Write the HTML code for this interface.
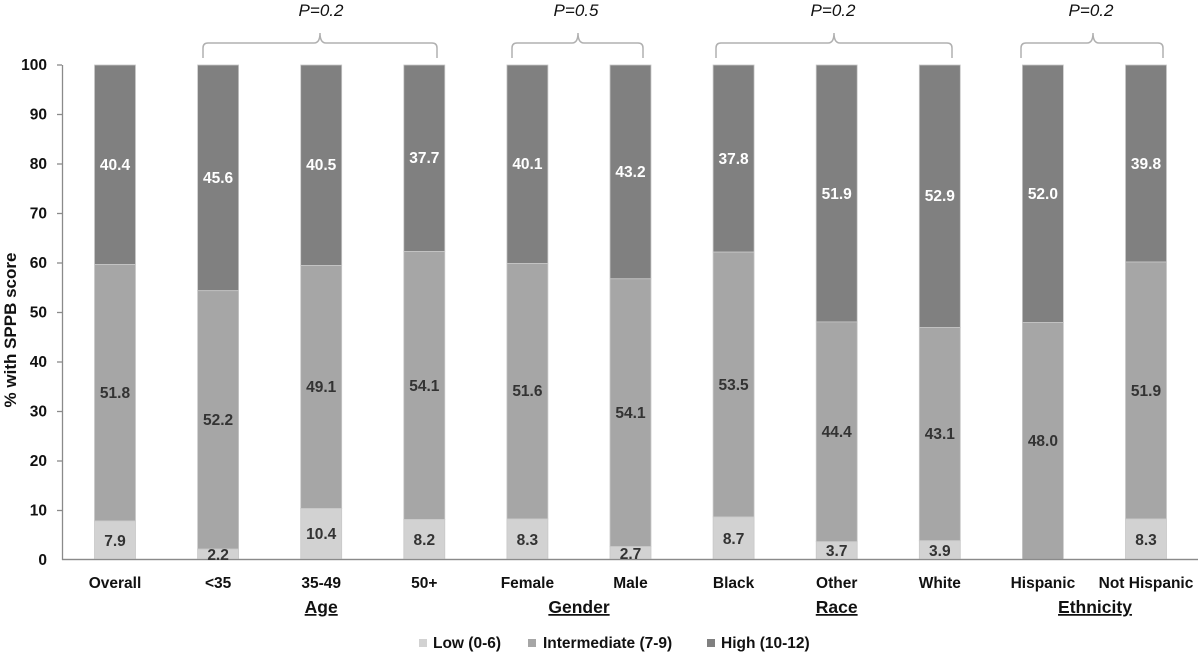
<!DOCTYPE html>
<html><head><meta charset="utf-8"><style>
html,body{margin:0;padding:0;background:#fff;}
svg{display:block;}
text{font-family:"Liberation Sans",Arial,sans-serif;}
.tk{font-size:15.5px;font-weight:bold;fill:#111;text-anchor:end;}
.cat{font-size:15.5px;font-weight:bold;fill:#111;text-anchor:middle;}
.grp{font-size:17.5px;font-weight:bold;fill:#111;text-anchor:middle;text-decoration:underline;}
.dl{font-size:15.5px;font-weight:bold;fill:#333;text-anchor:middle;}
.dh{font-size:15.5px;font-weight:bold;fill:#fff;text-anchor:middle;}
.p{font-size:17px;font-style:italic;fill:#111;text-anchor:middle;}
.lg{font-size:15.5px;font-weight:bold;fill:#111;}
.br{fill:none;stroke:#b0b0b0;stroke-width:1.5;}
</style></head><body>
<svg width="1200" height="654" viewBox="0 0 1200 654" xmlns="http://www.w3.org/2000/svg">
<!-- brackets -->
<path class="br" d="M203,58 L203,48 Q203,43 208,43 L314,43 Q320,43 320,33 Q320,43 326,43 L432,43 Q437,43 437,48 L437,58"/>
<path class="br" d="M512,58 L512,48 Q512,43 517,43 L572,43 Q578,43 578,33 Q578,43 584,43 L638,43 Q643,43 643,48 L643,58"/>
<path class="br" d="M716,58 L716,48 Q716,43 721,43 L828,43 Q834,43 834,33 Q834,43 840,43 L947,43 Q952,43 952,48 L952,58"/>
<path class="br" d="M1021,58 L1021,48 Q1021,43 1026,43 L1087,43 Q1093,43 1093,33 Q1093,43 1099,43 L1158,43 Q1163,43 1163,48 L1163,58"/>
<text class="p" x="321" y="16">P=0.2</text>
<text class="p" x="576" y="16">P=0.5</text>
<text class="p" x="833" y="16">P=0.2</text>
<text class="p" x="1091" y="16">P=0.2</text>

<!-- axes -->
<g stroke="#8a8a8a" stroke-width="1.3">
<line x1="62.5" y1="65" x2="62.5" y2="560"/>
<line x1="62" y1="559.5" x2="1198" y2="559.5"/>
<line x1="57" y1="65" x2="62" y2="65"/>
<line x1="57" y1="114.5" x2="62" y2="114.5"/>
<line x1="57" y1="164" x2="62" y2="164"/>
<line x1="57" y1="213.5" x2="62" y2="213.5"/>
<line x1="57" y1="263" x2="62" y2="263"/>
<line x1="57" y1="312.5" x2="62" y2="312.5"/>
<line x1="57" y1="362" x2="62" y2="362"/>
<line x1="57" y1="411.5" x2="62" y2="411.5"/>
<line x1="57" y1="461" x2="62" y2="461"/>
<line x1="57" y1="510.5" x2="62" y2="510.5"/>
</g>
<g>
<text class="tk" x="47" y="70">100</text>
<text class="tk" x="47" y="119.5">90</text>
<text class="tk" x="47" y="169">80</text>
<text class="tk" x="47" y="218.5">70</text>
<text class="tk" x="47" y="268">60</text>
<text class="tk" x="47" y="317.5">50</text>
<text class="tk" x="47" y="367">40</text>
<text class="tk" x="47" y="416.5">30</text>
<text class="tk" x="47" y="466">20</text>
<text class="tk" x="47" y="515.5">10</text>
<text class="tk" x="47" y="565">0</text>
</g>
<text transform="translate(16,330) rotate(-90)" style="font-size:17px;font-weight:bold;fill:#111;text-anchor:middle;">% with SPPB score</text>

<!-- bars -->
<g stroke="#c8c8c8" stroke-width="0.8">
<rect x="94.5" y="65" width="41" height="199.5" fill="#808080"/>
<rect x="94.5" y="264.5" width="41" height="256.4" fill="#a6a6a6"/>
<rect x="94.5" y="520.9" width="41" height="38.6" fill="#d2d2d2"/>
<rect x="197.6" y="65" width="41" height="225.7" fill="#808080"/>
<rect x="197.6" y="290.7" width="41" height="258.4" fill="#a6a6a6"/>
<rect x="197.6" y="549.1" width="41" height="10.4" fill="#d2d2d2"/>
<rect x="300.7" y="65" width="41" height="200.5" fill="#808080"/>
<rect x="300.7" y="265.5" width="41" height="243" fill="#a6a6a6"/>
<rect x="300.7" y="508.5" width="41" height="51" fill="#d2d2d2"/>
<rect x="403.8" y="65" width="41" height="186.6" fill="#808080"/>
<rect x="403.8" y="251.6" width="41" height="267.8" fill="#a6a6a6"/>
<rect x="403.8" y="519.4" width="41" height="40.1" fill="#d2d2d2"/>
<rect x="506.9" y="65" width="41" height="198.5" fill="#808080"/>
<rect x="506.9" y="263.5" width="41" height="255.4" fill="#a6a6a6"/>
<rect x="506.9" y="518.9" width="41" height="40.6" fill="#d2d2d2"/>
<rect x="610" y="65" width="41" height="213.8" fill="#808080"/>
<rect x="610" y="278.8" width="41" height="267.8" fill="#a6a6a6"/>
<rect x="610" y="546.6" width="41" height="12.9" fill="#d2d2d2"/>
<rect x="713.1" y="65" width="41" height="187.1" fill="#808080"/>
<rect x="713.1" y="252.1" width="41" height="264.8" fill="#a6a6a6"/>
<rect x="713.1" y="516.9" width="41" height="42.6" fill="#d2d2d2"/>
<rect x="816.2" y="65" width="41" height="256.9" fill="#808080"/>
<rect x="816.2" y="321.9" width="41" height="219.8" fill="#a6a6a6"/>
<rect x="816.2" y="541.7" width="41" height="17.8" fill="#d2d2d2"/>
<rect x="919.3" y="65" width="41" height="262.4" fill="#808080"/>
<rect x="919.3" y="327.4" width="41" height="213.3" fill="#a6a6a6"/>
<rect x="919.3" y="540.7" width="41" height="18.8" fill="#d2d2d2"/>
<rect x="1022.4" y="65" width="41" height="257.4" fill="#808080"/>
<rect x="1022.4" y="322.4" width="41" height="237.1" fill="#a6a6a6"/>
<rect x="1125.5" y="65" width="41" height="197" fill="#808080"/>
<rect x="1125.5" y="262" width="41" height="256.9" fill="#a6a6a6"/>
<rect x="1125.5" y="518.9" width="41" height="40.6" fill="#d2d2d2"/>
</g>
<line x1="62" y1="559.5" x2="1198" y2="559.5" stroke="#8a8a8a" stroke-width="1.3"/>

<!-- data labels -->
<g>
<text class="dh" x="115" y="170">40.4</text>
<text class="dl" x="115" y="398">51.8</text>
<text class="dl" x="115" y="546">7.9</text>

<text class="dh" x="218.1" y="183">45.6</text>
<text class="dl" x="218.1" y="425">52.2</text>
<text class="dl" x="218.1" y="560">2.2</text>

<text class="dh" x="321.2" y="170">40.5</text>
<text class="dl" x="321.2" y="392">49.1</text>
<text class="dl" x="321.2" y="539">10.4</text>

<text class="dh" x="424.3" y="163">37.7</text>
<text class="dl" x="424.3" y="391">54.1</text>
<text class="dl" x="424.3" y="545">8.2</text>

<text class="dh" x="527.4" y="169">40.1</text>
<text class="dl" x="527.4" y="396">51.6</text>
<text class="dl" x="527.4" y="545">8.3</text>

<text class="dh" x="630.5" y="177">43.2</text>
<text class="dl" x="630.5" y="418">54.1</text>
<text class="dl" x="630.5" y="559">2.7</text>

<text class="dh" x="733.6" y="164">37.8</text>
<text class="dl" x="733.6" y="390">53.5</text>
<text class="dl" x="733.6" y="544">8.7</text>

<text class="dh" x="836.7" y="199">51.9</text>
<text class="dl" x="836.7" y="437">44.4</text>
<text class="dl" x="836.7" y="556">3.7</text>

<text class="dh" x="939.8" y="201">52.9</text>
<text class="dl" x="939.8" y="439">43.1</text>
<text class="dl" x="939.8" y="556">3.9</text>

<text class="dh" x="1042.9" y="199">52.0</text>
<text class="dl" x="1042.9" y="446">48.0</text>

<text class="dh" x="1146" y="169">39.8</text>
<text class="dl" x="1146" y="396">51.9</text>
<text class="dl" x="1146" y="545">8.3</text>
</g>

<!-- category labels -->
<g>
<text class="cat" x="115" y="588">Overall</text>
<text class="cat" x="218.1" y="588">&lt;35</text>
<text class="cat" x="321.2" y="588">35-49</text>
<text class="cat" x="424.3" y="588">50+</text>
<text class="cat" x="527.4" y="588">Female</text>
<text class="cat" x="630.5" y="588">Male</text>
<text class="cat" x="733.6" y="588">Black</text>
<text class="cat" x="836.7" y="588">Other</text>
<text class="cat" x="939.8" y="588">White</text>
<text class="cat" x="1042.9" y="588">Hispanic</text>
<text class="cat" x="1146" y="588">Not Hispanic</text>
</g>
<g>
<text class="grp" x="321.2" y="613">Age</text>
<text class="grp" x="579" y="613">Gender</text>
<text class="grp" x="836.7" y="613">Race</text>
<text class="grp" x="1095" y="613">Ethnicity</text>
</g>

<!-- legend -->
<rect x="419" y="639" width="8" height="8" fill="#d2d2d2"/>
<text class="lg" x="433" y="648">Low (0-6)</text>
<rect x="528" y="639" width="8" height="8" fill="#a6a6a6"/>
<text class="lg" x="543" y="648">Intermediate (7-9)</text>
<rect x="707" y="639" width="8" height="8" fill="#808080"/>
<text class="lg" x="721" y="648">High (10-12)</text>
</svg>
</body></html>
